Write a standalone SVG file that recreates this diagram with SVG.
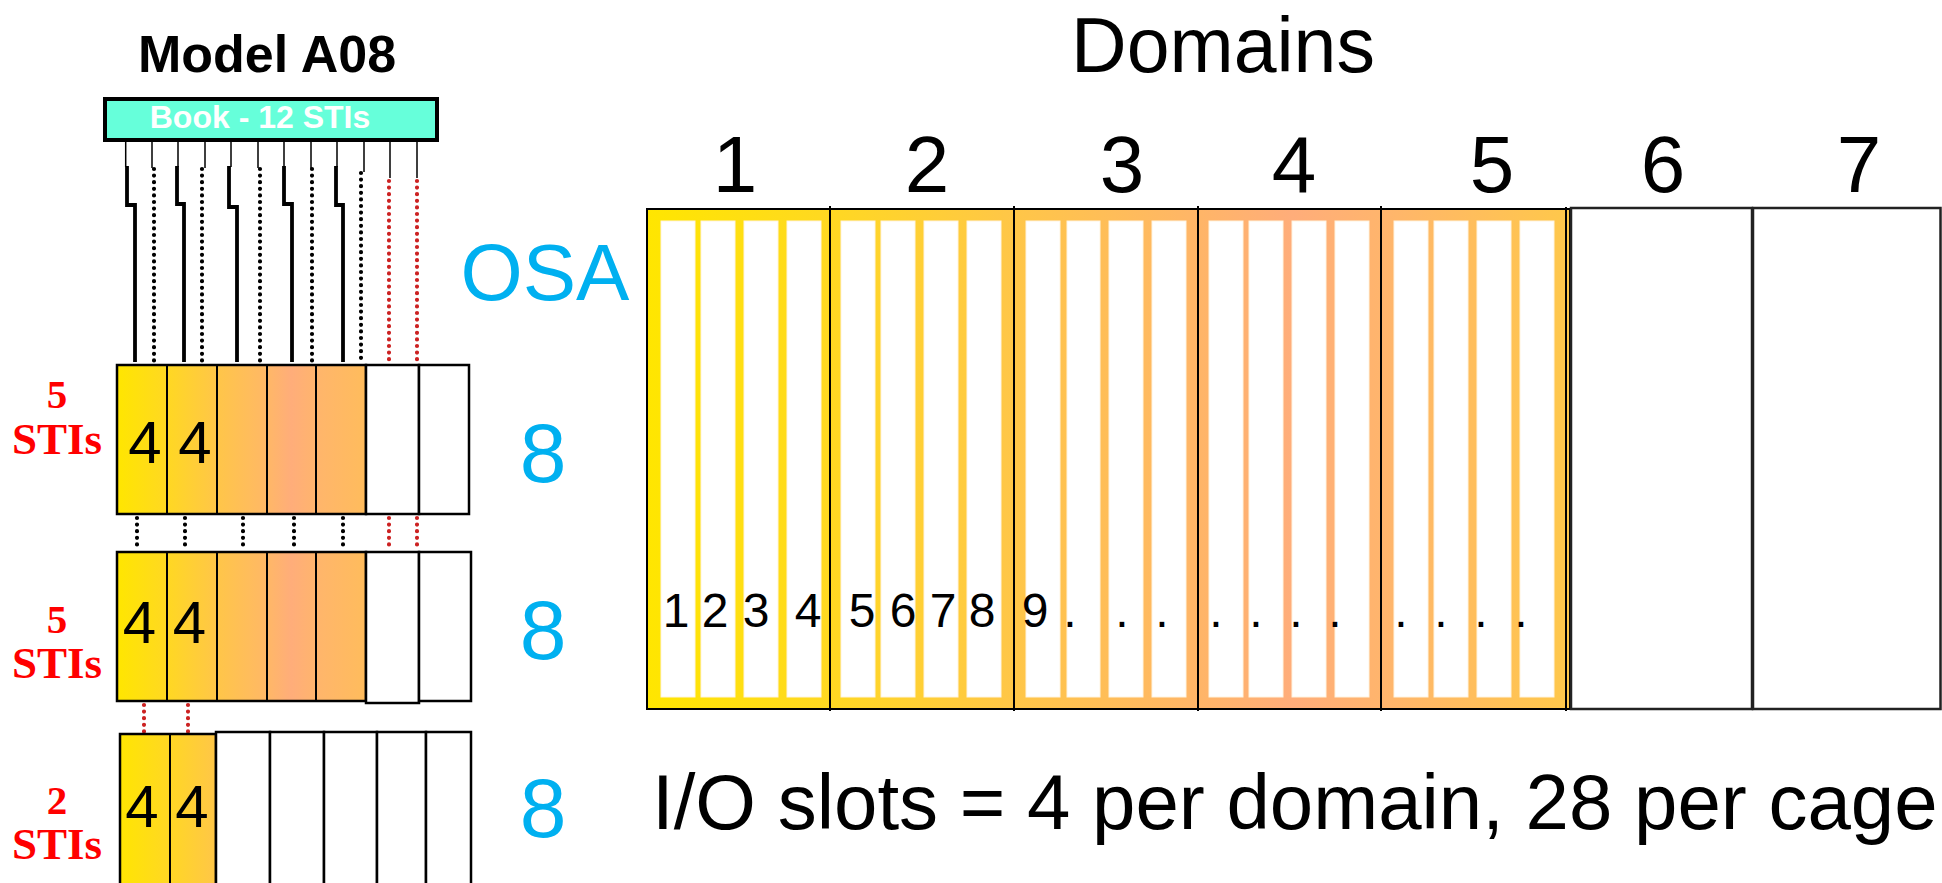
<svg xmlns="http://www.w3.org/2000/svg" width="1942" height="883" viewBox="0 0 1942 883">
<style>
.sans{font-family:"Liberation Sans",Arial,sans-serif}
.serif{font-family:"Liberation Serif","Times New Roman",serif}
.blk{fill:#000}
.blue{fill:#00B0F0}
.red{fill:#FF0000;font-weight:bold}
.cell{stroke:#000;stroke-width:2.5}
.wcell{fill:#fff;stroke:#000;stroke-width:2.5}
.slot{fill:#fff;stroke:#FFF4E0;stroke-width:1}
.thin{stroke:#000;stroke-width:1.5;fill:none}
.thick{stroke:#000;stroke-width:3.8;fill:none}
.dotb{stroke:#000;stroke-width:4.2;stroke-linecap:round;stroke-dasharray:0 6.6;fill:none}
.dotr{stroke:#CC2222;stroke-width:4.2;stroke-linecap:round;stroke-dasharray:0 6.6;fill:none}
.div{stroke:#000;stroke-width:2}
</style>
<defs>
<linearGradient id="gl" gradientUnits="userSpaceOnUse" x1="117" y1="0" x2="366" y2="0">
<stop offset="0" stop-color="#FFE600"/>
<stop offset="0.2" stop-color="#FFD822"/>
<stop offset="0.4" stop-color="#FFC648"/>
<stop offset="0.6" stop-color="#FFB866"/>
<stop offset="0.7" stop-color="#FFAD7A"/>
<stop offset="0.82" stop-color="#FFB66A"/>
<stop offset="1" stop-color="#FFBC5C"/>
</linearGradient>
<linearGradient id="gm" gradientUnits="userSpaceOnUse" x1="647" y1="0" x2="1570" y2="0">
<stop offset="0" stop-color="#FFE600"/>
<stop offset="0.2" stop-color="#FFD822"/>
<stop offset="0.4" stop-color="#FFC648"/>
<stop offset="0.6" stop-color="#FFB568"/>
<stop offset="0.7" stop-color="#FFAD7A"/>
<stop offset="0.8" stop-color="#FFB56C"/>
<stop offset="1" stop-color="#FFC84A"/>
</linearGradient>
</defs>
<rect width="1942" height="883" fill="#fff"/>

<g id="title">
<text x="267" y="72" class="sans blk" font-size="52" font-weight="bold" text-anchor="middle">Model A08</text>
</g>

<g id="book">
<rect x="105" y="99" width="332" height="41" fill="#66FFDA" stroke="#000" stroke-width="4"/>
<text x="260" y="128" class="sans" fill="#fff" font-size="32" font-weight="bold" text-anchor="middle">Book - 12 STIs</text>
</g>

<g id="connectors">
<path class="thin" d="M125.7,142V167M152,142V168M178,142V167M205,142V168M231,142V167M258,142V168M284,142V167M311,142V168M337,142V167M364,142V172M390,142V178M417,142V178"/>
<path class="thick" d="M127,166V205H135V362"/>
<path class="thick" d="M177,166V204H184V362"/>
<path class="thick" d="M229,166V207H237V362"/>
<path class="thick" d="M284,166V204H292V362"/>
<path class="thick" d="M336,166V205H343V362"/>
<path class="dotb" d="M154,169V364M202,169V364M260,169V364M312,169V364M361,173V364"/>
<path class="dotr" d="M389,181V364M417,181V364"/>
<path class="dotb" d="M137,518V550M185,518V550M243,518V550M294,518V550M343,518V550"/>
<path class="dotr" d="M389,518V550M417,518V550"/>
<path class="dotr" d="M144,705V756M188,705V756"/>
</g>

<g id="rack1">
<rect x="117" y="365" width="249" height="149" fill="url(#gl)" class="cell"/>
<path class="div" d="M167,365V514M217,365V514M267,365V514M316,365V514" stroke-width="2.5"/>
<rect x="366" y="365" width="53" height="149" class="wcell"/>
<rect x="419" y="365" width="50" height="149" class="wcell"/>
<text x="145" y="463" class="sans blk" font-size="60" text-anchor="middle">4</text>
<text x="195" y="463" class="sans blk" font-size="60" text-anchor="middle">4</text>
<text x="57" y="408" class="serif red" font-size="41" text-anchor="middle">5</text>
<text x="57" y="454" class="serif red" font-size="45" text-anchor="middle">STIs</text>
<text x="543" y="482" class="sans blue" font-size="84" text-anchor="middle">8</text>
</g>

<g id="rack2">
<rect x="117" y="552" width="249" height="149" fill="url(#gl)" class="cell"/>
<path class="div" d="M167,552V701M217,552V701M267,552V701M316,552V701" stroke-width="2.5"/>
<rect x="366" y="552" width="53" height="151" class="wcell"/>
<rect x="419" y="552" width="52" height="149" class="wcell"/>
<text x="139.5" y="643" class="sans blk" font-size="60" text-anchor="middle">4</text>
<text x="189.5" y="643" class="sans blk" font-size="60" text-anchor="middle">4</text>
<text x="57" y="633" class="serif red" font-size="41" text-anchor="middle">5</text>
<text x="57" y="678" class="serif red" font-size="45" text-anchor="middle">STIs</text>
<text x="543" y="659" class="sans blue" font-size="84" text-anchor="middle">8</text>
</g>

<g id="rack3">
<rect x="120" y="734" width="96" height="160" fill="url(#gl)" class="cell"/>
<path class="div" d="M170,734V890" stroke-width="2.5"/>
<rect x="216" y="732" width="54" height="160" class="wcell"/>
<rect x="270" y="732" width="54" height="160" class="wcell"/>
<rect x="324" y="732" width="53" height="160" class="wcell"/>
<rect x="377" y="732" width="49" height="160" class="wcell"/>
<rect x="426" y="732" width="45" height="160" class="wcell"/>
<text x="142" y="827" class="sans blk" font-size="60" text-anchor="middle">4</text>
<text x="192" y="827" class="sans blk" font-size="60" text-anchor="middle">4</text>
<text x="57" y="814" class="serif red" font-size="41" text-anchor="middle">2</text>
<text x="57" y="859" class="serif red" font-size="45" text-anchor="middle">STIs</text>
<text x="543" y="837" class="sans blue" font-size="84" text-anchor="middle">8</text>
</g>

<g id="osa">
<text x="545" y="300" class="sans blue" font-size="80" text-anchor="middle">OSA</text>
</g>

<g id="domains-title">
<text x="1223" y="72" class="sans blk" font-size="77" text-anchor="middle">Domains</text>
<text x="735" y="192" class="sans blk" font-size="80" text-anchor="middle">1</text>
<text x="927" y="192" class="sans blk" font-size="80" text-anchor="middle">2</text>
<text x="1122" y="192" class="sans blk" font-size="80" text-anchor="middle">3</text>
<text x="1294" y="192" class="sans blk" font-size="80" text-anchor="middle">4</text>
<text x="1492" y="192" class="sans blk" font-size="80" text-anchor="middle">5</text>
<text x="1663" y="192" class="sans blk" font-size="80" text-anchor="middle">6</text>
<text x="1859" y="192" class="sans blk" font-size="80" text-anchor="middle">7</text>
</g>

<g id="cage">
<rect x="647" y="209" width="923" height="500" fill="url(#gm)" stroke="#000" stroke-width="2"/>
<g id="slots">
<rect class="slot" x="661" y="221" width="34" height="476"/>
<rect class="slot" x="701" y="221" width="34" height="476"/>
<rect class="slot" x="744" y="221" width="34" height="476"/>
<rect class="slot" x="787" y="221" width="34" height="476"/>
<rect class="slot" x="841" y="221" width="34" height="476"/>
<rect class="slot" x="881" y="221" width="34" height="476"/>
<rect class="slot" x="924" y="221" width="34" height="476"/>
<rect class="slot" x="967" y="221" width="34" height="476"/>
<rect class="slot" x="1026" y="221" width="34" height="476"/>
<rect class="slot" x="1067" y="221" width="33" height="476"/>
<rect class="slot" x="1109" y="221" width="34" height="476"/>
<rect class="slot" x="1152" y="221" width="34" height="476"/>
<rect class="slot" x="1209" y="221" width="34" height="476"/>
<rect class="slot" x="1249" y="221" width="34" height="476"/>
<rect class="slot" x="1292" y="221" width="34" height="476"/>
<rect class="slot" x="1335" y="221" width="34" height="476"/>
<rect class="slot" x="1394" y="221" width="34" height="476"/>
<rect class="slot" x="1434" y="221" width="34" height="476"/>
<rect class="slot" x="1477" y="221" width="34" height="476"/>
<rect class="slot" x="1520" y="221" width="34" height="476"/>
</g>
<path class="div" d="M830,206V711M1014,206V711M1198,206V711M1381,206V711M1566,207V711"/>
<g class="sans blk" font-size="48" text-anchor="middle">
<text x="676" y="627">1</text>
<text x="715" y="627">2</text>
<text x="756" y="627">3</text>
<text x="808" y="627">4</text>
<text x="862" y="627">5</text>
<text x="903" y="627">6</text>
<text x="943" y="627">7</text>
<text x="982" y="627">8</text>
<text x="1035" y="627">9</text>
<text x="1070" y="627">.</text>
<text x="1122" y="627">.</text>
<text x="1162" y="627">.</text>
<text x="1216" y="627">.</text>
<text x="1256" y="627">.</text>
<text x="1296" y="627">.</text>
<text x="1335" y="627">.</text>
<text x="1401" y="627">.</text>
<text x="1441" y="627">.</text>
<text x="1481" y="627">.</text>
<text x="1521" y="627">.</text>
</g>
</g>

<g id="domain6">
<rect x="1571" y="208" width="181" height="501" fill="#fff" stroke="#222" stroke-width="2.5"/>
</g>
<g id="domain7">
<rect x="1753" y="208" width="187.5" height="501" fill="#fff" stroke="#222" stroke-width="2.5"/>
</g>

<g id="footer">
<text x="652" y="829" class="sans blk" font-size="78">I/O slots = 4 per domain, 28 per cage</text>
</g>
</svg>
